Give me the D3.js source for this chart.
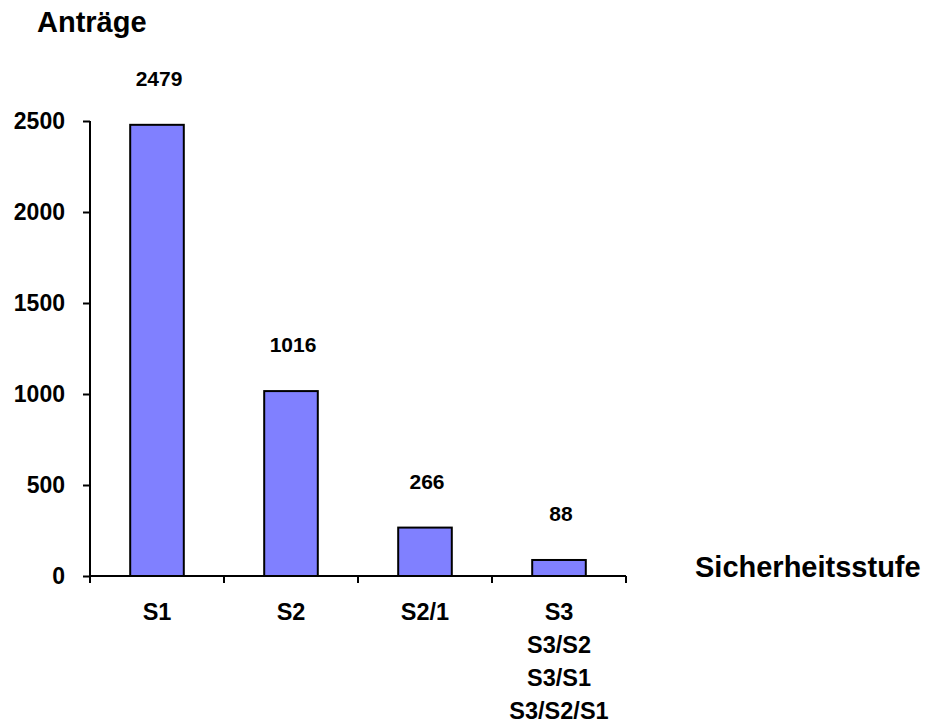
<!DOCTYPE html>
<html>
<head>
<meta charset="utf-8">
<script src="https://cdn.jsdelivr.net/npm/d3@7"></script>
<style>
  html, body { margin: 0; padding: 0; background: #fff; }
  svg { display: block; }
  text { font-family: "Liberation Sans", Arial, sans-serif; font-weight: bold; fill: #000; }
</style>
</head>
<body>
<svg id="chart" width="925" height="726"></svg>
<script>
const categories = ["S1", "S2", "S2/1", "S3"];
const categoryLines = [["S1"], ["S2"], ["S2/1"], ["S3", "S3/S2", "S3/S1", "S3/S2/S1"]];
const values = [2479, 1016, 266, 88];
const yTicks = [0, 500, 1000, 1500, 2000, 2500];
const yTitle = "Anträge";
const xTitle = "Sicherheitsstufe";

const svg = d3.select("#chart");

const x = d3.scaleBand().domain(categories).range([90, 626]).padding(0);
const y = d3.scaleLinear().domain([0, 2500]).range([576, 121]);
const barW = x.bandwidth() * 0.4;

// bars
svg.append("g").selectAll("rect")
  .data(values)
  .join("rect")
  .attr("x", (d, i) => x(categories[i]) + (x.bandwidth() - barW) / 2)
  .attr("y", d => y(d))
  .attr("width", barW)
  .attr("height", d => y(0) - y(d))
  .attr("fill", "#8080FF")
  .attr("stroke", "#000")
  .attr("stroke-width", 2);

// value labels
svg.append("g").selectAll("text")
  .data(values)
  .join("text")
  .attr("x", (d, i) => x(categories[i]) + x.bandwidth() / 2 + 2)
  .attr("y", d => y(d) - 39)
  .attr("text-anchor", "middle")
  .style("font-size", "21px")
  .text(d => d);

// y axis
const yAxis = svg.append("g")
  .attr("transform", "translate(90,0)")
  .call(d3.axisLeft(y).tickValues(yTicks).tickSize(7).tickPadding(18).tickFormat(d3.format("d")));
yAxis.select(".domain").attr("stroke", "#000").attr("stroke-width", 2).attr("d", `M0,${y(2500)}V${y(0)}`);
yAxis.selectAll(".tick line").attr("stroke", "#000").attr("stroke-width", 2);
yAxis.selectAll(".tick text").style("font-size", "23px").style("font-family", "'Liberation Sans', Arial, sans-serif").style("font-weight", "bold");

// x axis
const xAxis = svg.append("g").attr("transform", `translate(0,${y(0)})`);
xAxis.append("line")
  .attr("x1", x.range()[0]).attr("x2", x.range()[1])
  .attr("y1", 0).attr("y2", 0)
  .attr("stroke", "#000").attr("stroke-width", 2);
const boundaries = categories.map(c => x(c)).concat([x.range()[1]]);
xAxis.selectAll("line.tick")
  .data(boundaries)
  .join("line")
  .attr("class", "tick")
  .attr("x1", d => d).attr("x2", d => d)
  .attr("y1", 0).attr("y2", 7)
  .attr("stroke", "#000").attr("stroke-width", 2);

// category labels
const catG = svg.append("g");
categories.forEach((c, i) => {
  const t = catG.append("text")
    .attr("x", x(c) + x.bandwidth() / 2)
    .attr("y", 620)
    .attr("text-anchor", "middle")
    .style("font-size", "23.5px");
  categoryLines[i].forEach((line, j) => {
    t.append("tspan")
      .attr("x", x(c) + x.bandwidth() / 2)
      .attr("y", 620 + j * 33)
      .text(line);
  });
});

// titles
svg.append("text").attr("x", 37).attr("y", 32).style("font-size", "29px").text(yTitle);
svg.append("text").attr("x", 695).attr("y", 577).style("font-size", "29px").text(xTitle);
</script>
</body>
</html>
